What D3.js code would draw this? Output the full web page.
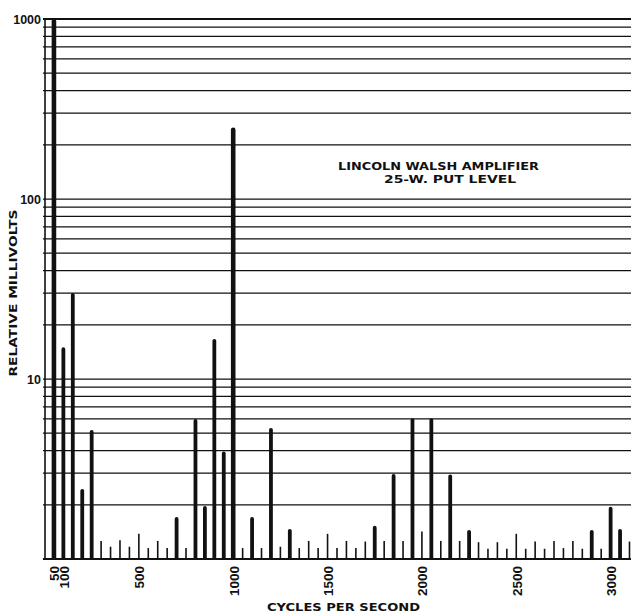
<!DOCTYPE html>
<html>
<head>
<meta charset="utf-8">
<script src="https://cdn.jsdelivr.net/npm/d3@7"></script>
<style>
  body { margin: 0; background: #fff; }
  text { font-family: "DejaVu Sans", sans-serif; font-weight: bold; fill: #111; }
</style>
</head>
<body>
<script>
// harmonic components, cycles per second
var freqs = [50, 100, 150, 200, 250, 300, 350, 400, 450, 500,
  550, 600, 650, 700, 750, 800, 850, 900, 950, 1000,
  1050, 1100, 1150, 1200, 1250, 1300, 1350, 1400, 1450, 1500,
  1550, 1600, 1650, 1700, 1750, 1800, 1850, 1900, 1950, 2000,
  2050, 2100, 2150, 2200, 2250, 2300, 2350, 2400, 2450, 2500,
  2550, 2600, 2650, 2700, 2750, 2800, 2850, 2900, 2950, 3000,
  3050, 3100];
// relative millivolts
var millivolts = [1000, 15, 30, 2.45, 5.2, 1.26, 1.17, 1.27, 1.17, 1.38,
  1.15, 1.26, 1.15, 1.71, 1.15, 6.0, 1.97, 16.7, 3.95, 250,
  1.15, 1.71, 1.15, 5.35, 1.17, 1.47, 1.15, 1.26, 1.15, 1.38,
  1.15, 1.26, 1.15, 1.25, 1.53, 1.26, 2.97, 1.26, 6.05, 1.42,
  6.05, 1.26, 2.95, 1.26, 1.45, 1.24, 1.14, 1.24, 1.14, 1.38,
  1.14, 1.25, 1.14, 1.26, 1.15, 1.26, 1.14, 1.45, 1.14, 1.95,
  1.47, 1.25];
var xTicks = [50, 100, 500, 1000, 1500, 2000, 2500, 3000];
var yLabels = [10, 100, 1000];
var title = ["LINCOLN WALSH AMPLIFIER", "25-W. PUT LEVEL"];

var width = 631, height = 612;
var plotLeft = 45, plotTop = 19, plotBottom = 559;

var x = d3.scaleLinear().domain([0, 3108]).range([44.5, width]);
var y = d3.scaleLog().domain([1, 1000]).range([plotBottom, plotTop]);

var svg = d3.select("body").append("svg")
  .attr("width", width).attr("height", height);

// horizontal grid, one line per 1..9 of every decade
svg.append("g").selectAll("line")
  .data(y.ticks())
  .enter().append("line")
  .attr("x1", plotLeft - 2).attr("x2", width)
  .attr("y1", function (d) { return y(d); })
  .attr("y2", function (d) { return y(d); })
  .attr("stroke", "#111")
  .attr("stroke-width", function (d) { return d == 1000 || d == 1 ? 2 : 1.25; });

// left frame
svg.append("line")
  .attr("x1", plotLeft).attr("x2", plotLeft)
  .attr("y1", y(1000)).attr("y2", y(1) + 1)
  .attr("stroke", "#111").attr("stroke-width", 1.6);

// bars with rounded tops
var data = freqs.map(function (f, i) { return { f: f, v: millivolts[i] }; });
function barWidth(v) { return v >= 100 ? 4.6 : (v >= 1.44 ? 3.8 : 1.6); }
svg.append("g").selectAll("path")
  .data(data)
  .enter().append("path")
  .attr("fill", "#111")
  .attr("d", function (d) {
    var w = barWidth(d.v), r = w / 2, cx = x(d.f), t = y(d.v), b = y(1);
    if (d.v < 1.44) return "M" + (cx - r) + "," + b + "V" + t + "H" + (cx + r) + "V" + b + "Z";
    return "M" + (cx - r) + "," + b + "V" + (t + r) +
      "A" + r + "," + r + " 0 0 1 " + (cx + r) + "," + (t + r) + "V" + b + "Z";
  });

// y labels
var yAxis = svg.append("g")
  .attr("transform", "translate(" + (plotLeft - 2) + ",0)")
  .call(d3.axisLeft(y).tickValues(yLabels).tickSize(0).tickPadding(2).tickFormat(d3.format("d")));
yAxis.select(".domain").remove();
yAxis.selectAll("text")
  .style("font-family", "'Liberation Sans', Arial, sans-serif")
  .style("font-weight", "bold")
  .style("font-size", "12.5px")
  .attr("fill", "#111");

// x labels, rotated
var xAxis = svg.append("g")
  .attr("transform", "translate(0," + 566 + ")")
  .call(d3.axisBottom(x).tickValues(xTicks).tickSize(0).tickFormat(d3.format("d")));
xAxis.select(".domain").remove();
xAxis.selectAll("text")
  .attr("transform", "rotate(-90)")
  .attr("text-anchor", "end")
  .attr("x", 0).attr("y", 0).attr("dy", "0.36em")
  .style("font-family", "'Liberation Sans', Arial, sans-serif")
  .style("font-weight", "bold")
  .style("font-size", "13.5px")
  .attr("fill", "#111");

// axis titles
svg.append("text")
  .attr("transform", "translate(17,293) rotate(-90)")
  .attr("text-anchor", "middle")
  .attr("textLength", 167).attr("lengthAdjust", "spacingAndGlyphs")
  .style("font-size", "10.5px")
  .text("RELATIVE MILLIVOLTS");

svg.append("text")
  .attr("x", 267).attr("y", 611)
  .attr("textLength", 153).attr("lengthAdjust", "spacingAndGlyphs")
  .style("font-size", "10px")
  .text("CYCLES PER SECOND");

// chart title
svg.append("text")
  .attr("x", 338).attr("y", 169.5)
  .attr("textLength", 201).attr("lengthAdjust", "spacingAndGlyphs")
  .style("font-size", "10.5px")
  .text(title[0]);
svg.append("text")
  .attr("x", 384).attr("y", 182.8)
  .attr("textLength", 132).attr("lengthAdjust", "spacingAndGlyphs")
  .style("font-size", "10.5px")
  .text(title[1]);
</script>
</body>
</html>
